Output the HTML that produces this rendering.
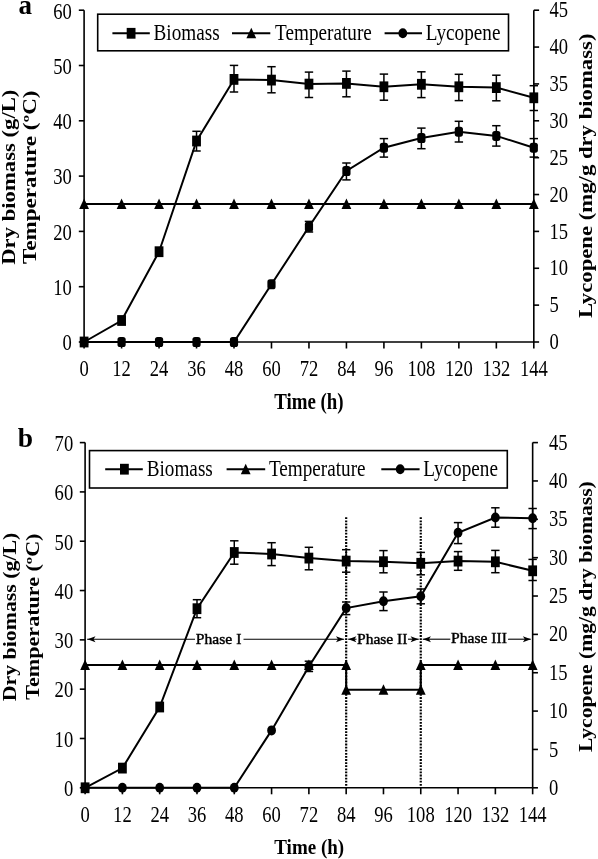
<!DOCTYPE html>
<html><head><meta charset="utf-8"><style>
html,body{margin:0;padding:0;background:#fff;}
body{width:598px;height:859px;overflow:hidden;}
svg{display:block;will-change:transform;}
.ph{stroke:#000 !important;stroke-width:0.45px;}
</style></head><body>
<svg width="598" height="859" viewBox="0 0 598 859" font-family='"Liberation Serif", serif' fill="#000" stroke="#000">
<rect x="0" y="0" width="598" height="859" fill="#fff" stroke="none"/>
<g stroke="#000" fill="none">
</g>
<g>
<line x1="84.10" y1="10.20" x2="84.10" y2="342.00" stroke-width="1.6"/>
<line x1="533.81" y1="10.20" x2="533.81" y2="342.00" stroke-width="1.6"/>
<line x1="84.10" y1="342.00" x2="533.81" y2="342.00" stroke-width="1.6"/>
<line x1="78.80" y1="342.00" x2="84.10" y2="342.00" stroke-width="1.6"/>
<text stroke="none" transform="translate(71.80,350.30) scale(1,1.200)" font-size="18.6" text-anchor="end">0</text>
<line x1="78.80" y1="286.70" x2="84.10" y2="286.70" stroke-width="1.6"/>
<text stroke="none" transform="translate(71.80,295.00) scale(1,1.200)" font-size="18.6" text-anchor="end">10</text>
<line x1="78.80" y1="231.40" x2="84.10" y2="231.40" stroke-width="1.6"/>
<text stroke="none" transform="translate(71.80,239.70) scale(1,1.200)" font-size="18.6" text-anchor="end">20</text>
<line x1="78.80" y1="176.10" x2="84.10" y2="176.10" stroke-width="1.6"/>
<text stroke="none" transform="translate(71.80,184.40) scale(1,1.200)" font-size="18.6" text-anchor="end">30</text>
<line x1="78.80" y1="120.80" x2="84.10" y2="120.80" stroke-width="1.6"/>
<text stroke="none" transform="translate(71.80,129.10) scale(1,1.200)" font-size="18.6" text-anchor="end">40</text>
<line x1="78.80" y1="65.50" x2="84.10" y2="65.50" stroke-width="1.6"/>
<text stroke="none" transform="translate(71.80,73.80) scale(1,1.200)" font-size="18.6" text-anchor="end">50</text>
<line x1="78.80" y1="10.20" x2="84.10" y2="10.20" stroke-width="1.6"/>
<text stroke="none" transform="translate(71.80,18.50) scale(1,1.200)" font-size="18.6" text-anchor="end">60</text>
<line x1="533.81" y1="342.00" x2="539.11" y2="342.00" stroke-width="1.6"/>
<text stroke="none" transform="translate(549.40,349.10) scale(1,1.200)" font-size="18.6" text-anchor="start">0</text>
<line x1="533.81" y1="305.13" x2="539.11" y2="305.13" stroke-width="1.6"/>
<text stroke="none" transform="translate(549.40,312.23) scale(1,1.200)" font-size="18.6" text-anchor="start">5</text>
<line x1="533.81" y1="268.27" x2="539.11" y2="268.27" stroke-width="1.6"/>
<text stroke="none" transform="translate(549.40,275.37) scale(1,1.200)" font-size="18.6" text-anchor="start">10</text>
<line x1="533.81" y1="231.40" x2="539.11" y2="231.40" stroke-width="1.6"/>
<text stroke="none" transform="translate(549.40,238.50) scale(1,1.200)" font-size="18.6" text-anchor="start">15</text>
<line x1="533.81" y1="194.53" x2="539.11" y2="194.53" stroke-width="1.6"/>
<text stroke="none" transform="translate(549.40,201.63) scale(1,1.200)" font-size="18.6" text-anchor="start">20</text>
<line x1="533.81" y1="157.67" x2="539.11" y2="157.67" stroke-width="1.6"/>
<text stroke="none" transform="translate(549.40,164.77) scale(1,1.200)" font-size="18.6" text-anchor="start">25</text>
<line x1="533.81" y1="120.80" x2="539.11" y2="120.80" stroke-width="1.6"/>
<text stroke="none" transform="translate(549.40,127.90) scale(1,1.200)" font-size="18.6" text-anchor="start">30</text>
<line x1="533.81" y1="83.93" x2="539.11" y2="83.93" stroke-width="1.6"/>
<text stroke="none" transform="translate(549.40,91.03) scale(1,1.200)" font-size="18.6" text-anchor="start">35</text>
<line x1="533.81" y1="47.07" x2="539.11" y2="47.07" stroke-width="1.6"/>
<text stroke="none" transform="translate(549.40,54.17) scale(1,1.200)" font-size="18.6" text-anchor="start">40</text>
<line x1="533.81" y1="10.20" x2="539.11" y2="10.20" stroke-width="1.6"/>
<text stroke="none" transform="translate(549.40,17.30) scale(1,1.200)" font-size="18.6" text-anchor="start">45</text>
<line x1="84.10" y1="342.00" x2="84.10" y2="348.50" stroke-width="1.6"/>
<text stroke="none" transform="translate(84.10,376.30) scale(1,1.200)" font-size="18.6" text-anchor="middle">0</text>
<line x1="121.58" y1="342.00" x2="121.58" y2="348.50" stroke-width="1.6"/>
<text stroke="none" transform="translate(121.58,376.30) scale(1,1.200)" font-size="18.6" text-anchor="middle">12</text>
<line x1="159.05" y1="342.00" x2="159.05" y2="348.50" stroke-width="1.6"/>
<text stroke="none" transform="translate(159.05,376.30) scale(1,1.200)" font-size="18.6" text-anchor="middle">24</text>
<line x1="196.53" y1="342.00" x2="196.53" y2="348.50" stroke-width="1.6"/>
<text stroke="none" transform="translate(196.53,376.30) scale(1,1.200)" font-size="18.6" text-anchor="middle">36</text>
<line x1="234.00" y1="342.00" x2="234.00" y2="348.50" stroke-width="1.6"/>
<text stroke="none" transform="translate(234.00,376.30) scale(1,1.200)" font-size="18.6" text-anchor="middle">48</text>
<line x1="271.48" y1="342.00" x2="271.48" y2="348.50" stroke-width="1.6"/>
<text stroke="none" transform="translate(271.48,376.30) scale(1,1.200)" font-size="18.6" text-anchor="middle">60</text>
<line x1="308.96" y1="342.00" x2="308.96" y2="348.50" stroke-width="1.6"/>
<text stroke="none" transform="translate(308.96,376.30) scale(1,1.200)" font-size="18.6" text-anchor="middle">72</text>
<line x1="346.43" y1="342.00" x2="346.43" y2="348.50" stroke-width="1.6"/>
<text stroke="none" transform="translate(346.43,376.30) scale(1,1.200)" font-size="18.6" text-anchor="middle">84</text>
<line x1="383.91" y1="342.00" x2="383.91" y2="348.50" stroke-width="1.6"/>
<text stroke="none" transform="translate(383.91,376.30) scale(1,1.200)" font-size="18.6" text-anchor="middle">96</text>
<line x1="421.38" y1="342.00" x2="421.38" y2="348.50" stroke-width="1.6"/>
<text stroke="none" transform="translate(421.38,376.30) scale(1,1.200)" font-size="18.6" text-anchor="middle">108</text>
<line x1="458.86" y1="342.00" x2="458.86" y2="348.50" stroke-width="1.6"/>
<text stroke="none" transform="translate(458.86,376.30) scale(1,1.200)" font-size="18.6" text-anchor="middle">120</text>
<line x1="496.34" y1="342.00" x2="496.34" y2="348.50" stroke-width="1.6"/>
<text stroke="none" transform="translate(496.34,376.30) scale(1,1.200)" font-size="18.6" text-anchor="middle">132</text>
<line x1="533.81" y1="342.00" x2="533.81" y2="348.50" stroke-width="1.6"/>
<text stroke="none" transform="translate(533.81,376.30) scale(1,1.200)" font-size="18.6" text-anchor="middle">144</text>
<text stroke="none" transform="translate(308.90,409.40) scale(1,1.190)" font-size="18.9" text-anchor="middle" font-weight="bold">Time (h)</text>
<text stroke="none" transform="translate(25.30,14.30) scale(1,1.000)" font-size="27" text-anchor="middle" font-weight="bold">a</text>
<text stroke="none" transform="translate(14.90,177.20) scale(1,1.220) rotate(-90)" font-size="18.6" text-anchor="middle" font-weight="bold">Dry biomass (g/L)</text>
<text stroke="none" transform="translate(36.40,177.30) scale(1,1.241) rotate(-90)" font-size="18.6" text-anchor="middle" font-weight="bold">Temperature (ºC)</text>
<text stroke="none" transform="translate(592.00,175.80) scale(1,1.222) rotate(-90)" font-size="18.6" text-anchor="middle" font-weight="bold">Lycopene (mg/g dry biomass)</text>
<rect x="97.7" y="14.2" width="410.8" height="36.6" fill="#fff" stroke-width="1.6"/>
<line x1="112.40" y1="33.30" x2="149.80" y2="33.30" stroke-width="2.0"/>
<rect x="126.70" y="27.90" width="8.8" height="10.8" fill="#000" stroke="none"/>
<text stroke="none" transform="translate(153.50,39.80) scale(1,1.150)" font-size="19.2" text-anchor="start">Biomass</text>
<line x1="232.00" y1="33.30" x2="270.30" y2="33.30" stroke-width="2.0"/>
<polygon points="251.30,27.80 256.20,38.30 246.40,38.30" fill="#000" stroke="none"/>
<text stroke="none" transform="translate(275.10,39.80) scale(1,1.150)" font-size="19.2" text-anchor="start">Temperature</text>
<line x1="384.60" y1="33.30" x2="422.00" y2="33.30" stroke-width="2.0"/>
<ellipse cx="402.80" cy="33.30" rx="4.4" ry="5.0" fill="#000" stroke="none"/>
<text stroke="none" transform="translate(425.80,39.80) scale(1,1.150)" font-size="19.2" text-anchor="start">Lycopene</text>
<polyline points="84.10,204.00 121.58,204.00 159.05,204.00 196.53,204.00 234.00,204.00 271.48,204.00 308.96,204.00 346.43,204.00 383.91,204.00 421.38,204.00 458.86,204.00 496.34,204.00 533.81,204.00" fill="none" stroke-width="2.0" stroke-linejoin="miter"/>
<polygon points="84.10,198.50 89.00,209.00 79.20,209.00" fill="#000" stroke="none"/>
<polygon points="121.58,198.50 126.48,209.00 116.68,209.00" fill="#000" stroke="none"/>
<polygon points="159.05,198.50 163.95,209.00 154.15,209.00" fill="#000" stroke="none"/>
<polygon points="196.53,198.50 201.43,209.00 191.63,209.00" fill="#000" stroke="none"/>
<polygon points="234.00,198.50 238.90,209.00 229.10,209.00" fill="#000" stroke="none"/>
<polygon points="271.48,198.50 276.38,209.00 266.58,209.00" fill="#000" stroke="none"/>
<polygon points="308.96,198.50 313.86,209.00 304.06,209.00" fill="#000" stroke="none"/>
<polygon points="346.43,198.50 351.33,209.00 341.53,209.00" fill="#000" stroke="none"/>
<polygon points="383.91,198.50 388.81,209.00 379.01,209.00" fill="#000" stroke="none"/>
<polygon points="421.38,198.50 426.28,209.00 416.48,209.00" fill="#000" stroke="none"/>
<polygon points="458.86,198.50 463.76,209.00 453.96,209.00" fill="#000" stroke="none"/>
<polygon points="496.34,198.50 501.24,209.00 491.44,209.00" fill="#000" stroke="none"/>
<polygon points="533.81,198.50 538.71,209.00 528.91,209.00" fill="#000" stroke="none"/>
<polyline points="84.10,342.00 121.58,342.00 159.05,342.00 196.53,342.00 234.00,342.00 271.48,284.30 308.96,226.80 346.43,171.00 383.91,147.70 421.38,138.00 458.86,131.70 496.34,135.90 533.81,147.70" fill="none" stroke-width="2.0" stroke-linejoin="miter"/>
<rect x="80.00" y="337.00" width="8.2" height="10.0" rx="2.6" fill="#000" stroke="none"/>
<rect x="117.48" y="337.00" width="8.2" height="10.0" rx="2.6" fill="#000" stroke="none"/>
<rect x="154.95" y="337.00" width="8.2" height="10.0" rx="2.6" fill="#000" stroke="none"/>
<rect x="192.43" y="337.00" width="8.2" height="10.0" rx="2.6" fill="#000" stroke="none"/>
<rect x="229.90" y="337.00" width="8.2" height="10.0" rx="2.6" fill="#000" stroke="none"/>
<rect x="267.38" y="279.30" width="8.2" height="10.0" rx="2.6" fill="#000" stroke="none"/>
<line x1="308.96" y1="221.40" x2="308.96" y2="232.00" stroke-width="1.5"/>
<line x1="304.76" y1="221.40" x2="313.16" y2="221.40" stroke-width="1.5"/>
<line x1="304.76" y1="232.00" x2="313.16" y2="232.00" stroke-width="1.5"/>
<rect x="304.86" y="221.80" width="8.2" height="10.0" rx="2.6" fill="#000" stroke="none"/>
<line x1="346.43" y1="163.00" x2="346.43" y2="179.90" stroke-width="1.5"/>
<line x1="342.23" y1="163.00" x2="350.63" y2="163.00" stroke-width="1.5"/>
<line x1="342.23" y1="179.90" x2="350.63" y2="179.90" stroke-width="1.5"/>
<rect x="342.33" y="166.00" width="8.2" height="10.0" rx="2.6" fill="#000" stroke="none"/>
<line x1="383.91" y1="138.60" x2="383.91" y2="157.10" stroke-width="1.5"/>
<line x1="379.71" y1="138.60" x2="388.11" y2="138.60" stroke-width="1.5"/>
<line x1="379.71" y1="157.10" x2="388.11" y2="157.10" stroke-width="1.5"/>
<rect x="379.81" y="142.70" width="8.2" height="10.0" rx="2.6" fill="#000" stroke="none"/>
<line x1="421.38" y1="128.10" x2="421.38" y2="148.70" stroke-width="1.5"/>
<line x1="417.18" y1="128.10" x2="425.58" y2="128.10" stroke-width="1.5"/>
<line x1="417.18" y1="148.70" x2="425.58" y2="148.70" stroke-width="1.5"/>
<rect x="417.28" y="133.00" width="8.2" height="10.0" rx="2.6" fill="#000" stroke="none"/>
<line x1="458.86" y1="121.30" x2="458.86" y2="142.00" stroke-width="1.5"/>
<line x1="454.66" y1="121.30" x2="463.06" y2="121.30" stroke-width="1.5"/>
<line x1="454.66" y1="142.00" x2="463.06" y2="142.00" stroke-width="1.5"/>
<rect x="454.76" y="126.70" width="8.2" height="10.0" rx="2.6" fill="#000" stroke="none"/>
<line x1="496.34" y1="125.70" x2="496.34" y2="146.10" stroke-width="1.5"/>
<line x1="492.14" y1="125.70" x2="500.54" y2="125.70" stroke-width="1.5"/>
<line x1="492.14" y1="146.10" x2="500.54" y2="146.10" stroke-width="1.5"/>
<rect x="492.24" y="130.90" width="8.2" height="10.0" rx="2.6" fill="#000" stroke="none"/>
<line x1="533.81" y1="138.60" x2="533.81" y2="157.10" stroke-width="1.5"/>
<line x1="529.61" y1="138.60" x2="538.01" y2="138.60" stroke-width="1.5"/>
<line x1="529.61" y1="157.10" x2="538.01" y2="157.10" stroke-width="1.5"/>
<rect x="529.71" y="142.70" width="8.2" height="10.0" rx="2.6" fill="#000" stroke="none"/>
<polyline points="84.10,342.00 121.58,320.50 159.05,251.70 196.53,141.00 234.00,79.40 271.48,80.10 308.96,84.10 346.43,83.40 383.91,86.80 421.38,84.30 458.86,86.80 496.34,87.60 533.81,97.80" fill="none" stroke-width="2.0" stroke-linejoin="miter"/>
<rect x="79.70" y="336.60" width="8.8" height="10.8" fill="#000" stroke="none"/>
<rect x="117.18" y="315.10" width="8.8" height="10.8" fill="#000" stroke="none"/>
<rect x="154.65" y="246.30" width="8.8" height="10.8" fill="#000" stroke="none"/>
<line x1="196.53" y1="131.30" x2="196.53" y2="151.00" stroke-width="1.5"/>
<line x1="192.33" y1="131.30" x2="200.73" y2="131.30" stroke-width="1.5"/>
<line x1="192.33" y1="151.00" x2="200.73" y2="151.00" stroke-width="1.5"/>
<rect x="192.13" y="135.60" width="8.8" height="10.8" fill="#000" stroke="none"/>
<line x1="234.00" y1="65.40" x2="234.00" y2="92.00" stroke-width="1.5"/>
<line x1="229.80" y1="65.40" x2="238.20" y2="65.40" stroke-width="1.5"/>
<line x1="229.80" y1="92.00" x2="238.20" y2="92.00" stroke-width="1.5"/>
<rect x="229.60" y="74.00" width="8.8" height="10.8" fill="#000" stroke="none"/>
<line x1="271.48" y1="66.70" x2="271.48" y2="92.80" stroke-width="1.5"/>
<line x1="267.28" y1="66.70" x2="275.68" y2="66.70" stroke-width="1.5"/>
<line x1="267.28" y1="92.80" x2="275.68" y2="92.80" stroke-width="1.5"/>
<rect x="267.08" y="74.70" width="8.8" height="10.8" fill="#000" stroke="none"/>
<line x1="308.96" y1="72.10" x2="308.96" y2="97.50" stroke-width="1.5"/>
<line x1="304.76" y1="72.10" x2="313.16" y2="72.10" stroke-width="1.5"/>
<line x1="304.76" y1="97.50" x2="313.16" y2="97.50" stroke-width="1.5"/>
<rect x="304.56" y="78.70" width="8.8" height="10.8" fill="#000" stroke="none"/>
<line x1="346.43" y1="71.10" x2="346.43" y2="96.80" stroke-width="1.5"/>
<line x1="342.23" y1="71.10" x2="350.63" y2="71.10" stroke-width="1.5"/>
<line x1="342.23" y1="96.80" x2="350.63" y2="96.80" stroke-width="1.5"/>
<rect x="342.03" y="78.00" width="8.8" height="10.8" fill="#000" stroke="none"/>
<line x1="383.91" y1="74.10" x2="383.91" y2="100.20" stroke-width="1.5"/>
<line x1="379.71" y1="74.10" x2="388.11" y2="74.10" stroke-width="1.5"/>
<line x1="379.71" y1="100.20" x2="388.11" y2="100.20" stroke-width="1.5"/>
<rect x="379.51" y="81.40" width="8.8" height="10.8" fill="#000" stroke="none"/>
<line x1="421.38" y1="71.80" x2="421.38" y2="97.60" stroke-width="1.5"/>
<line x1="417.18" y1="71.80" x2="425.58" y2="71.80" stroke-width="1.5"/>
<line x1="417.18" y1="97.60" x2="425.58" y2="97.60" stroke-width="1.5"/>
<rect x="416.98" y="78.90" width="8.8" height="10.8" fill="#000" stroke="none"/>
<line x1="458.86" y1="74.30" x2="458.86" y2="100.60" stroke-width="1.5"/>
<line x1="454.66" y1="74.30" x2="463.06" y2="74.30" stroke-width="1.5"/>
<line x1="454.66" y1="100.60" x2="463.06" y2="100.60" stroke-width="1.5"/>
<rect x="454.46" y="81.40" width="8.8" height="10.8" fill="#000" stroke="none"/>
<line x1="496.34" y1="75.20" x2="496.34" y2="100.80" stroke-width="1.5"/>
<line x1="492.14" y1="75.20" x2="500.54" y2="75.20" stroke-width="1.5"/>
<line x1="492.14" y1="100.80" x2="500.54" y2="100.80" stroke-width="1.5"/>
<rect x="491.94" y="82.20" width="8.8" height="10.8" fill="#000" stroke="none"/>
<line x1="533.81" y1="85.70" x2="533.81" y2="110.50" stroke-width="1.5"/>
<line x1="529.61" y1="85.70" x2="538.01" y2="85.70" stroke-width="1.5"/>
<line x1="529.61" y1="110.50" x2="538.01" y2="110.50" stroke-width="1.5"/>
<rect x="529.41" y="92.40" width="8.8" height="10.8" fill="#000" stroke="none"/>
<line x1="85.10" y1="442.60" x2="85.10" y2="787.80" stroke-width="1.6"/>
<line x1="532.65" y1="442.60" x2="532.65" y2="787.80" stroke-width="1.6"/>
<line x1="85.10" y1="787.80" x2="532.65" y2="787.80" stroke-width="1.6"/>
<line x1="79.80" y1="787.80" x2="85.10" y2="787.80" stroke-width="1.6"/>
<text stroke="none" transform="translate(73.20,796.10) scale(1,1.200)" font-size="18.6" text-anchor="end">0</text>
<line x1="79.80" y1="738.49" x2="85.10" y2="738.49" stroke-width="1.6"/>
<text stroke="none" transform="translate(73.20,746.79) scale(1,1.200)" font-size="18.6" text-anchor="end">10</text>
<line x1="79.80" y1="689.17" x2="85.10" y2="689.17" stroke-width="1.6"/>
<text stroke="none" transform="translate(73.20,697.47) scale(1,1.200)" font-size="18.6" text-anchor="end">20</text>
<line x1="79.80" y1="639.86" x2="85.10" y2="639.86" stroke-width="1.6"/>
<text stroke="none" transform="translate(73.20,648.16) scale(1,1.200)" font-size="18.6" text-anchor="end">30</text>
<line x1="79.80" y1="590.54" x2="85.10" y2="590.54" stroke-width="1.6"/>
<text stroke="none" transform="translate(73.20,598.84) scale(1,1.200)" font-size="18.6" text-anchor="end">40</text>
<line x1="79.80" y1="541.23" x2="85.10" y2="541.23" stroke-width="1.6"/>
<text stroke="none" transform="translate(73.20,549.53) scale(1,1.200)" font-size="18.6" text-anchor="end">50</text>
<line x1="79.80" y1="491.91" x2="85.10" y2="491.91" stroke-width="1.6"/>
<text stroke="none" transform="translate(73.20,500.21) scale(1,1.200)" font-size="18.6" text-anchor="end">60</text>
<line x1="79.80" y1="442.60" x2="85.10" y2="442.60" stroke-width="1.6"/>
<text stroke="none" transform="translate(73.20,450.90) scale(1,1.200)" font-size="18.6" text-anchor="end">70</text>
<line x1="532.65" y1="787.80" x2="537.95" y2="787.80" stroke-width="1.6"/>
<text stroke="none" transform="translate(549.00,794.90) scale(1,1.200)" font-size="18.6" text-anchor="start">0</text>
<line x1="532.65" y1="749.44" x2="537.95" y2="749.44" stroke-width="1.6"/>
<text stroke="none" transform="translate(549.00,756.54) scale(1,1.200)" font-size="18.6" text-anchor="start">5</text>
<line x1="532.65" y1="711.09" x2="537.95" y2="711.09" stroke-width="1.6"/>
<text stroke="none" transform="translate(549.00,718.19) scale(1,1.200)" font-size="18.6" text-anchor="start">10</text>
<line x1="532.65" y1="672.73" x2="537.95" y2="672.73" stroke-width="1.6"/>
<text stroke="none" transform="translate(549.00,679.83) scale(1,1.200)" font-size="18.6" text-anchor="start">15</text>
<line x1="532.65" y1="634.38" x2="537.95" y2="634.38" stroke-width="1.6"/>
<text stroke="none" transform="translate(549.00,641.48) scale(1,1.200)" font-size="18.6" text-anchor="start">20</text>
<line x1="532.65" y1="596.02" x2="537.95" y2="596.02" stroke-width="1.6"/>
<text stroke="none" transform="translate(549.00,603.12) scale(1,1.200)" font-size="18.6" text-anchor="start">25</text>
<line x1="532.65" y1="557.67" x2="537.95" y2="557.67" stroke-width="1.6"/>
<text stroke="none" transform="translate(549.00,564.77) scale(1,1.200)" font-size="18.6" text-anchor="start">30</text>
<line x1="532.65" y1="519.31" x2="537.95" y2="519.31" stroke-width="1.6"/>
<text stroke="none" transform="translate(549.00,526.41) scale(1,1.200)" font-size="18.6" text-anchor="start">35</text>
<line x1="532.65" y1="480.96" x2="537.95" y2="480.96" stroke-width="1.6"/>
<text stroke="none" transform="translate(549.00,488.06) scale(1,1.200)" font-size="18.6" text-anchor="start">40</text>
<line x1="532.65" y1="442.60" x2="537.95" y2="442.60" stroke-width="1.6"/>
<text stroke="none" transform="translate(549.00,449.70) scale(1,1.200)" font-size="18.6" text-anchor="start">45</text>
<line x1="85.10" y1="787.80" x2="85.10" y2="794.30" stroke-width="1.6"/>
<text stroke="none" transform="translate(85.10,821.60) scale(1,1.200)" font-size="18.6" text-anchor="middle">0</text>
<line x1="122.40" y1="787.80" x2="122.40" y2="794.30" stroke-width="1.6"/>
<text stroke="none" transform="translate(122.40,821.60) scale(1,1.200)" font-size="18.6" text-anchor="middle">12</text>
<line x1="159.69" y1="787.80" x2="159.69" y2="794.30" stroke-width="1.6"/>
<text stroke="none" transform="translate(159.69,821.60) scale(1,1.200)" font-size="18.6" text-anchor="middle">24</text>
<line x1="196.99" y1="787.80" x2="196.99" y2="794.30" stroke-width="1.6"/>
<text stroke="none" transform="translate(196.99,821.60) scale(1,1.200)" font-size="18.6" text-anchor="middle">36</text>
<line x1="234.28" y1="787.80" x2="234.28" y2="794.30" stroke-width="1.6"/>
<text stroke="none" transform="translate(234.28,821.60) scale(1,1.200)" font-size="18.6" text-anchor="middle">48</text>
<line x1="271.58" y1="787.80" x2="271.58" y2="794.30" stroke-width="1.6"/>
<text stroke="none" transform="translate(271.58,821.60) scale(1,1.200)" font-size="18.6" text-anchor="middle">60</text>
<line x1="308.88" y1="787.80" x2="308.88" y2="794.30" stroke-width="1.6"/>
<text stroke="none" transform="translate(308.88,821.60) scale(1,1.200)" font-size="18.6" text-anchor="middle">72</text>
<line x1="346.17" y1="787.80" x2="346.17" y2="794.30" stroke-width="1.6"/>
<text stroke="none" transform="translate(346.17,821.60) scale(1,1.200)" font-size="18.6" text-anchor="middle">84</text>
<line x1="383.47" y1="787.80" x2="383.47" y2="794.30" stroke-width="1.6"/>
<text stroke="none" transform="translate(383.47,821.60) scale(1,1.200)" font-size="18.6" text-anchor="middle">96</text>
<line x1="420.76" y1="787.80" x2="420.76" y2="794.30" stroke-width="1.6"/>
<text stroke="none" transform="translate(420.76,821.60) scale(1,1.200)" font-size="18.6" text-anchor="middle">108</text>
<line x1="458.06" y1="787.80" x2="458.06" y2="794.30" stroke-width="1.6"/>
<text stroke="none" transform="translate(458.06,821.60) scale(1,1.200)" font-size="18.6" text-anchor="middle">120</text>
<line x1="495.36" y1="787.80" x2="495.36" y2="794.30" stroke-width="1.6"/>
<text stroke="none" transform="translate(495.36,821.60) scale(1,1.200)" font-size="18.6" text-anchor="middle">132</text>
<line x1="532.65" y1="787.80" x2="532.65" y2="794.30" stroke-width="1.6"/>
<text stroke="none" transform="translate(532.65,821.60) scale(1,1.200)" font-size="18.6" text-anchor="middle">144</text>
<text stroke="none" transform="translate(309.20,854.00) scale(1,1.150)" font-size="19.0" text-anchor="middle" font-weight="bold">Time (h)</text>
<text stroke="none" transform="translate(25.30,446.50) scale(1,0.970)" font-size="27.5" text-anchor="middle" font-weight="bold">b</text>
<text stroke="none" transform="translate(16.20,616.95) scale(1,1.174) rotate(-90)" font-size="18.6" text-anchor="middle" font-weight="bold">Dry biomass (g/L)</text>
<text stroke="none" transform="translate(38.90,616.60) scale(1,1.188) rotate(-90)" font-size="18.6" text-anchor="middle" font-weight="bold">Temperature (ºC)</text>
<text stroke="none" transform="translate(592.20,616.60) scale(1,1.163) rotate(-90)" font-size="18.6" text-anchor="middle" font-weight="bold">Lycopene (mg/g dry biomass)</text>
<rect x="89.5" y="450.6" width="417.8" height="37.4" fill="#fff" stroke-width="1.6"/>
<line x1="105.20" y1="469.20" x2="142.80" y2="469.20" stroke-width="2.0"/>
<rect x="120.00" y="463.80" width="8.8" height="10.8" fill="#000" stroke="none"/>
<text stroke="none" transform="translate(146.70,476.30) scale(1,1.150)" font-size="19.2" text-anchor="start">Biomass</text>
<line x1="226.60" y1="469.20" x2="265.20" y2="469.20" stroke-width="2.0"/>
<polygon points="245.70,463.70 250.60,474.20 240.80,474.20" fill="#000" stroke="none"/>
<text stroke="none" transform="translate(268.90,476.30) scale(1,1.150)" font-size="19.2" text-anchor="start">Temperature</text>
<line x1="381.30" y1="469.20" x2="419.60" y2="469.20" stroke-width="2.0"/>
<ellipse cx="400.20" cy="469.20" rx="4.4" ry="5.0" fill="#000" stroke="none"/>
<text stroke="none" transform="translate(423.30,476.30) scale(1,1.150)" font-size="19.2" text-anchor="start">Lycopene</text>
<line x1="346.17" y1="517.3" x2="346.17" y2="787.80" stroke-width="2.2" stroke-dasharray="1.8,1.3"/>
<line x1="420.76" y1="517.3" x2="420.76" y2="787.80" stroke-width="2.2" stroke-dasharray="1.8,1.3"/>
<line x1="87.10" y1="639.20" x2="195.00" y2="639.20" stroke-width="1.1"/>
<line x1="243.50" y1="639.20" x2="344.17" y2="639.20" stroke-width="1.1"/>
<polygon points="87.50,639.20 95.50,636.20 93.50,639.20 95.50,642.20" fill="#000" stroke="none"/>
<polygon points="343.97,639.20 335.97,636.20 337.97,639.20 335.97,642.20" fill="#000" stroke="none"/>
<text stroke="none" transform="translate(218.60,644.00) scale(1,0.960)" font-size="15.6" text-anchor="middle" class="ph">Phase I</text>
<line x1="348.17" y1="639.20" x2="356.50" y2="639.20" stroke-width="1.1"/>
<line x1="408.00" y1="639.20" x2="418.76" y2="639.20" stroke-width="1.1"/>
<polygon points="348.37,639.20 356.37,636.20 354.37,639.20 356.37,642.20" fill="#000" stroke="none"/>
<polygon points="418.56,639.20 410.56,636.20 412.56,639.20 410.56,642.20" fill="#000" stroke="none"/>
<text stroke="none" transform="translate(382.20,643.60) scale(1,0.960)" font-size="15.5" text-anchor="middle" class="ph">Phase II</text>
<line x1="422.76" y1="639.20" x2="450.30" y2="639.20" stroke-width="1.1"/>
<line x1="508.00" y1="639.20" x2="530.65" y2="639.20" stroke-width="1.1"/>
<polygon points="422.96,639.20 430.96,636.20 428.96,639.20 430.96,642.20" fill="#000" stroke="none"/>
<polygon points="530.85,639.20 522.85,636.20 524.85,639.20 522.85,642.20" fill="#000" stroke="none"/>
<text stroke="none" transform="translate(479.00,643.20) scale(1,0.960)" font-size="15.6" text-anchor="middle" class="ph">Phase III</text>
<polyline points="85.10,665.00 122.40,665.00 159.69,665.00 196.99,665.00 234.28,665.00 271.58,665.00 308.88,665.00 346.17,665.00 346.17,689.80 383.47,689.80 420.76,689.80 420.76,665.00 458.06,665.00 495.36,665.00 532.65,665.00" fill="none" stroke-width="2.0" stroke-linejoin="miter"/>
<polygon points="85.10,659.50 90.00,670.00 80.20,670.00" fill="#000" stroke="none"/>
<polygon points="122.40,659.50 127.30,670.00 117.50,670.00" fill="#000" stroke="none"/>
<polygon points="159.69,659.50 164.59,670.00 154.79,670.00" fill="#000" stroke="none"/>
<polygon points="196.99,659.50 201.89,670.00 192.09,670.00" fill="#000" stroke="none"/>
<polygon points="234.28,659.50 239.18,670.00 229.38,670.00" fill="#000" stroke="none"/>
<polygon points="271.58,659.50 276.48,670.00 266.68,670.00" fill="#000" stroke="none"/>
<polygon points="308.88,659.50 313.78,670.00 303.98,670.00" fill="#000" stroke="none"/>
<polygon points="346.17,659.50 351.07,670.00 341.27,670.00" fill="#000" stroke="none"/>
<polygon points="346.17,684.30 351.07,694.80 341.27,694.80" fill="#000" stroke="none"/>
<polygon points="383.47,684.30 388.37,694.80 378.57,694.80" fill="#000" stroke="none"/>
<polygon points="420.76,659.50 425.66,670.00 415.86,670.00" fill="#000" stroke="none"/>
<polygon points="420.76,684.30 425.66,694.80 415.86,694.80" fill="#000" stroke="none"/>
<polygon points="458.06,659.50 462.96,670.00 453.16,670.00" fill="#000" stroke="none"/>
<polygon points="495.36,659.50 500.26,670.00 490.46,670.00" fill="#000" stroke="none"/>
<polygon points="532.65,659.50 537.55,670.00 527.75,670.00" fill="#000" stroke="none"/>
<polyline points="85.10,787.80 122.40,787.80 159.69,787.80 196.99,787.80 234.28,787.80 271.58,730.40 308.88,666.40 346.17,608.10 383.47,601.30 420.76,596.30 458.06,532.70 495.36,517.50 532.65,518.20" fill="none" stroke-width="2.0" stroke-linejoin="miter"/>
<ellipse cx="85.10" cy="787.80" rx="4.4" ry="5.0" fill="#000" stroke="none"/>
<ellipse cx="122.40" cy="787.80" rx="4.4" ry="5.0" fill="#000" stroke="none"/>
<ellipse cx="159.69" cy="787.80" rx="4.4" ry="5.0" fill="#000" stroke="none"/>
<ellipse cx="196.99" cy="787.80" rx="4.4" ry="5.0" fill="#000" stroke="none"/>
<ellipse cx="234.28" cy="787.80" rx="4.4" ry="5.0" fill="#000" stroke="none"/>
<ellipse cx="271.58" cy="730.40" rx="4.4" ry="5.0" fill="#000" stroke="none"/>
<line x1="308.88" y1="661.20" x2="308.88" y2="671.50" stroke-width="1.5"/>
<line x1="304.68" y1="661.20" x2="313.08" y2="661.20" stroke-width="1.5"/>
<line x1="304.68" y1="671.50" x2="313.08" y2="671.50" stroke-width="1.5"/>
<ellipse cx="308.88" cy="666.40" rx="4.4" ry="5.0" fill="#000" stroke="none"/>
<line x1="346.17" y1="602.00" x2="346.17" y2="614.60" stroke-width="1.5"/>
<line x1="341.97" y1="602.00" x2="350.37" y2="602.00" stroke-width="1.5"/>
<line x1="341.97" y1="614.60" x2="350.37" y2="614.60" stroke-width="1.5"/>
<ellipse cx="346.17" cy="608.10" rx="4.4" ry="5.0" fill="#000" stroke="none"/>
<line x1="383.47" y1="592.00" x2="383.47" y2="610.60" stroke-width="1.5"/>
<line x1="379.27" y1="592.00" x2="387.67" y2="592.00" stroke-width="1.5"/>
<line x1="379.27" y1="610.60" x2="387.67" y2="610.60" stroke-width="1.5"/>
<ellipse cx="383.47" cy="601.30" rx="4.4" ry="5.0" fill="#000" stroke="none"/>
<line x1="420.76" y1="589.00" x2="420.76" y2="603.80" stroke-width="1.5"/>
<line x1="416.56" y1="589.00" x2="424.96" y2="589.00" stroke-width="1.5"/>
<line x1="416.56" y1="603.80" x2="424.96" y2="603.80" stroke-width="1.5"/>
<ellipse cx="420.76" cy="596.30" rx="4.4" ry="5.0" fill="#000" stroke="none"/>
<line x1="458.06" y1="522.60" x2="458.06" y2="543.60" stroke-width="1.5"/>
<line x1="453.86" y1="522.60" x2="462.26" y2="522.60" stroke-width="1.5"/>
<line x1="453.86" y1="543.60" x2="462.26" y2="543.60" stroke-width="1.5"/>
<ellipse cx="458.06" cy="532.70" rx="4.4" ry="5.0" fill="#000" stroke="none"/>
<line x1="495.36" y1="507.80" x2="495.36" y2="527.20" stroke-width="1.5"/>
<line x1="491.16" y1="507.80" x2="499.56" y2="507.80" stroke-width="1.5"/>
<line x1="491.16" y1="527.20" x2="499.56" y2="527.20" stroke-width="1.5"/>
<ellipse cx="495.36" cy="517.50" rx="4.4" ry="5.0" fill="#000" stroke="none"/>
<line x1="532.65" y1="508.50" x2="532.65" y2="528.60" stroke-width="1.5"/>
<line x1="528.45" y1="508.50" x2="536.85" y2="508.50" stroke-width="1.5"/>
<line x1="528.45" y1="528.60" x2="536.85" y2="528.60" stroke-width="1.5"/>
<ellipse cx="532.65" cy="518.20" rx="4.4" ry="5.0" fill="#000" stroke="none"/>
<polyline points="85.10,787.80 122.40,768.10 159.69,707.00 196.99,608.70 234.28,552.50 271.58,554.00 308.88,558.10 346.17,561.10 383.47,561.70 420.76,563.30 458.06,561.10 495.36,561.80 532.65,570.80" fill="none" stroke-width="2.0" stroke-linejoin="miter"/>
<rect x="80.70" y="782.40" width="8.8" height="10.8" fill="#000" stroke="none"/>
<rect x="118.00" y="762.70" width="8.8" height="10.8" fill="#000" stroke="none"/>
<rect x="155.29" y="701.60" width="8.8" height="10.8" fill="#000" stroke="none"/>
<line x1="196.99" y1="599.70" x2="196.99" y2="617.70" stroke-width="1.5"/>
<line x1="192.79" y1="599.70" x2="201.19" y2="599.70" stroke-width="1.5"/>
<line x1="192.79" y1="617.70" x2="201.19" y2="617.70" stroke-width="1.5"/>
<rect x="192.59" y="603.30" width="8.8" height="10.8" fill="#000" stroke="none"/>
<line x1="234.28" y1="540.80" x2="234.28" y2="564.20" stroke-width="1.5"/>
<line x1="230.08" y1="540.80" x2="238.48" y2="540.80" stroke-width="1.5"/>
<line x1="230.08" y1="564.20" x2="238.48" y2="564.20" stroke-width="1.5"/>
<rect x="229.88" y="547.10" width="8.8" height="10.8" fill="#000" stroke="none"/>
<line x1="271.58" y1="542.70" x2="271.58" y2="565.60" stroke-width="1.5"/>
<line x1="267.38" y1="542.70" x2="275.78" y2="542.70" stroke-width="1.5"/>
<line x1="267.38" y1="565.60" x2="275.78" y2="565.60" stroke-width="1.5"/>
<rect x="267.18" y="548.60" width="8.8" height="10.8" fill="#000" stroke="none"/>
<line x1="308.88" y1="547.30" x2="308.88" y2="569.80" stroke-width="1.5"/>
<line x1="304.68" y1="547.30" x2="313.08" y2="547.30" stroke-width="1.5"/>
<line x1="304.68" y1="569.80" x2="313.08" y2="569.80" stroke-width="1.5"/>
<rect x="304.48" y="552.70" width="8.8" height="10.8" fill="#000" stroke="none"/>
<line x1="346.17" y1="549.70" x2="346.17" y2="572.20" stroke-width="1.5"/>
<line x1="341.97" y1="549.70" x2="350.37" y2="549.70" stroke-width="1.5"/>
<line x1="341.97" y1="572.20" x2="350.37" y2="572.20" stroke-width="1.5"/>
<rect x="341.77" y="555.70" width="8.8" height="10.8" fill="#000" stroke="none"/>
<line x1="383.47" y1="550.60" x2="383.47" y2="572.80" stroke-width="1.5"/>
<line x1="379.27" y1="550.60" x2="387.67" y2="550.60" stroke-width="1.5"/>
<line x1="379.27" y1="572.80" x2="387.67" y2="572.80" stroke-width="1.5"/>
<rect x="379.07" y="556.30" width="8.8" height="10.8" fill="#000" stroke="none"/>
<line x1="420.76" y1="552.40" x2="420.76" y2="574.80" stroke-width="1.5"/>
<line x1="416.56" y1="552.40" x2="424.96" y2="552.40" stroke-width="1.5"/>
<line x1="416.56" y1="574.80" x2="424.96" y2="574.80" stroke-width="1.5"/>
<rect x="416.36" y="557.90" width="8.8" height="10.8" fill="#000" stroke="none"/>
<line x1="458.06" y1="551.60" x2="458.06" y2="570.30" stroke-width="1.5"/>
<line x1="453.86" y1="551.60" x2="462.26" y2="551.60" stroke-width="1.5"/>
<line x1="453.86" y1="570.30" x2="462.26" y2="570.30" stroke-width="1.5"/>
<rect x="453.66" y="555.70" width="8.8" height="10.8" fill="#000" stroke="none"/>
<line x1="495.36" y1="550.40" x2="495.36" y2="572.70" stroke-width="1.5"/>
<line x1="491.16" y1="550.40" x2="499.56" y2="550.40" stroke-width="1.5"/>
<line x1="491.16" y1="572.70" x2="499.56" y2="572.70" stroke-width="1.5"/>
<rect x="490.96" y="556.40" width="8.8" height="10.8" fill="#000" stroke="none"/>
<line x1="532.65" y1="559.40" x2="532.65" y2="580.50" stroke-width="1.5"/>
<line x1="528.45" y1="559.40" x2="536.85" y2="559.40" stroke-width="1.5"/>
<line x1="528.45" y1="580.50" x2="536.85" y2="580.50" stroke-width="1.5"/>
<rect x="528.25" y="565.40" width="8.8" height="10.8" fill="#000" stroke="none"/>
</g>
</svg>
</body></html>
